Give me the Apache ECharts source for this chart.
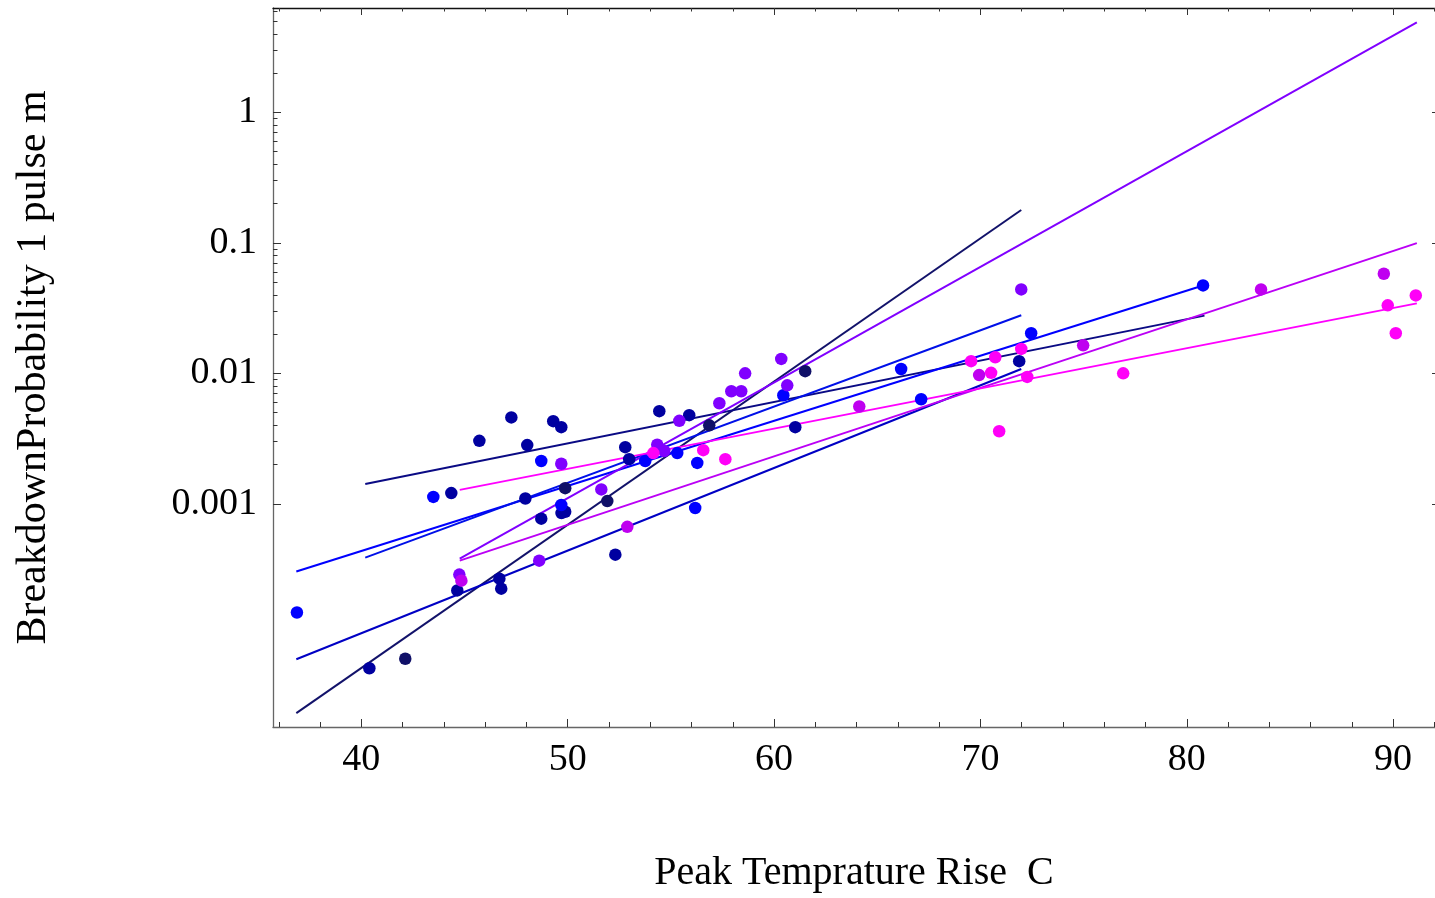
<!DOCTYPE html>
<html><head><meta charset="utf-8">
<script src="https://cdn.jsdelivr.net/npm/echarts@6/dist/echarts.min.js"></script>
<style>html,body{margin:0;padding:0;background:#fff}#c{width:1435px;height:898px}</style>
</head><body><div id="c"></div>
<script>
// ---- tick marks / labels ----
const xMajorTicks = [40, 50, 60, 70, 80, 90];
const xMinorTicks = [36, 38, 42, 44, 46, 48, 52, 54, 56, 58, 62, 64, 66, 68, 72, 74, 76, 78, 82, 84, 86, 88, 92];
const yMajorTicks = [0.001, 0.01, 0.1, 1];
const yTickLabels = ['0.001', '0.01', '0.1', '1'];
const yMinorTicks = [0.002, 0.003, 0.004, 0.005, 0.006, 0.007, 0.008, 0.009,
                     0.02, 0.03, 0.04, 0.05, 0.06, 0.07, 0.08, 0.09,
                     0.2, 0.3, 0.4, 0.5, 0.6, 0.7, 0.8, 0.9,
                     2, 3, 4, 5, 6];

// ---- measured points [peak temperature rise, breakdown probability] ----
const navyPts = [[42.13, 6.5e-5], [49.88, 1.32e-3], [51.92, 1.05e-3], [56.86, 4.0e-3], [61.51, 1.04e-2]];
const darkBluePts = [[40.39, 5.5e-5], [44.36, 1.21e-3], [45.72, 3.04e-3], [47.27, 4.6e-3], [48.04, 2.82e-3],
  [49.30, 4.3e-3], [49.69, 3.87e-3], [47.95, 1.1e-3], [48.72, 7.7e-4], [49.70, 8.5e-4], [49.88, 8.7e-4],
  [44.65, 2.17e-4], [46.69, 2.67e-4], [46.78, 2.24e-4], [52.31, 4.08e-4], [52.79, 2.72e-3], [52.98, 2.2e-3],
  [54.44, 5.13e-3], [55.89, 4.78e-3], [61.03, 3.87e-3], [71.88, 1.24e-2]];
const bluePts = [[36.88, 1.47e-4], [43.49, 1.13e-3], [48.72, 2.13e-3], [49.69, 9.8e-4], [53.76, 2.13e-3],
  [55.31, 2.45e-3], [56.28, 2.06e-3], [56.18, 9.3e-4], [60.45, 6.8e-3], [66.16, 1.08e-2], [67.13, 6.33e-3],
  [72.46, 2.03e-2], [80.79, 4.72e-2]];
const violetPts = [[49.69, 2.03e-3], [48.62, 3.67e-4], [44.75, 2.87e-4], [51.63, 1.29e-3], [54.34, 2.84e-3],
  [54.68, 2.54e-3], [55.41, 4.33e-3], [57.35, 5.9e-3], [57.93, 7.3e-3], [58.41, 7.3e-3], [58.60, 1.0e-2],
  [60.35, 1.29e-2], [60.64, 8.1e-3], [71.98, 4.4e-2]];
const purplePts = [[44.85, 2.58e-4], [52.89, 6.67e-4], [64.13, 5.57e-3], [69.94, 9.7e-3], [74.98, 1.64e-2],
  [83.60, 4.4e-2], [89.55, 5.8e-2]];
const magentaPts = [[54.15, 2.45e-3], [56.57, 2.58e-3], [57.64, 2.2e-3], [69.55, 1.24e-2], [70.72, 1.33e-2],
  [70.52, 1.01e-2], [71.98, 1.54e-2], [72.27, 9.4e-3], [70.91, 3.6e-3], [76.92, 1.0e-2], [89.74, 3.32e-2],
  [91.10, 3.96e-2], [90.13, 2.03e-2]];

// ---- fitted lines (end points) ----
const fitNavySteep = [[36.85, 2.49e-5], [71.98, 0.1786]];
const fitNavyFlat  = [[40.19, 1.42e-3], [80.86, 0.0277]];
const fitBlue      = [[36.85, 3.03e-4], [80.79, 0.0472]];
const fitBlueMid   = [[40.19, 3.87e-4], [71.98, 0.0279]];
const fitBlueDark  = [[36.85, 6.44e-5], [71.98, 0.0108]];
const fitViolet    = [[44.77, 3.8e-4], [91.15, 4.89]];
const fitPurple    = [[44.77, 3.67e-4], [91.15, 0.0995]];
const fitMagenta   = [[44.77, 1.28e-3], [91.15, 0.0344]];

const lg = v => Math.log10(v);
const toLog = arr => arr.map(p => [p[0], lg(p[1])]);

const FONT = 'Liberation Serif';
const xMin = 35.72, xMax = 92.03, yMin = -4.71, yMax = 0.80;

function xAx(pos, ticks, len, showLine, showLabel, lineColor) {
  return {
    type: 'value', position: pos, min: xMin, max: xMax,
    axisLine: { show: showLine, onZero: false, lineStyle: { color: lineColor, width: 1.3 } },
    axisTick: { show: true, inside: true, length: len, customValues: ticks, lineStyle: { color: '#333', width: 1 } },
    axisLabel: showLabel ? { show: true, customValues: ticks, margin: 14, fontFamily: FONT, fontSize: 38, color: '#000' } : { show: false },
    splitLine: { show: false }
  };
}
function yAx(pos, ticks, len, showLine, showLabel) {
  return {
    type: 'value', position: pos, min: yMin, max: yMax,
    axisLine: { show: showLine, onZero: false, lineStyle: { color: '#666', width: 1.3 } },
    axisTick: { show: true, inside: true, length: len, customValues: ticks.map(lg), lineStyle: { color: '#333', width: 1 } },
    axisLabel: showLabel ? {
      show: true, customValues: ticks.map(lg), margin: 16, fontFamily: FONT, fontSize: 38, color: '#000',
      formatter: v => { const i = yMajorTicks.findIndex(t => Math.abs(lg(t) - v) < 1e-6); return i >= 0 ? yTickLabels[i] : ''; }
    } : { show: false },
    splitLine: { show: false }
  };
}

const xAxes = [
  Object.assign(xAx('bottom', xMajorTicks, 8, true, true, '#666'), {
    name: 'Peak Temprature Rise  C', nameLocation: 'middle', nameGap: 126,
    nameTextStyle: { fontFamily: FONT, fontSize: 40, color: '#000' }
  }),
  xAx('bottom', xMinorTicks, 5, false, false, '#666'),
  xAx('top', xMajorTicks, 7, true, false, '#111'),
  xAx('top', xMinorTicks, 3.5, false, false, '#111')
];
const yAxes = [
  Object.assign(yAx('left', yMajorTicks, 8, true, true), {
    name: 'BreakdownProbability 1 pulse m', nameLocation: 'middle', nameGap: 218, nameRotate: 90,
    nameTextStyle: { fontFamily: FONT, fontSize: 42, color: '#000' }
  }),
  yAx('left', yMinorTicks, 4.5, false, false),
  yAx('right', yMajorTicks, 3, false, false)
];

function scat(data, color) {
  return { type: 'scatter', xAxisIndex: 0, yAxisIndex: 0, data: toLog(data), symbol: 'circle', symbolSize: 12.5,
    itemStyle: { color: color, opacity: 1 }, z: 3, silent: true };
}
function fit(data, color) {
  return { type: 'line', xAxisIndex: 0, yAxisIndex: 0, data: toLog(data), showSymbol: false, symbol: 'none',
    lineStyle: { color: color, width: 2 }, z: 2, silent: true };
}

const option = {
  animation: false,
  backgroundColor: '#fff',
  grid: { left: 273, right: 0, top: 8, bottom: 168, containLabel: false },
  xAxis: xAxes,
  yAxis: yAxes,
  series: [
    fit(fitNavySteep, '#12126a'),
    fit(fitNavyFlat, '#0a0a84'),
    fit(fitBlue, '#0000ff'),
    fit(fitBlueMid, '#0010e8'),
    fit(fitBlueDark, '#0000c4'),
    fit(fitViolet, '#8000ff'),
    fit(fitPurple, '#bb00f5'),
    fit(fitMagenta, '#ff00ff'),
    scat(navyPts, '#101068'),
    scat(darkBluePts, '#0000a0'),
    scat(bluePts, '#0000ff'),
    scat(violetPts, '#8000ff'),
    scat(purplePts, '#bf00f0'),
    scat(magentaPts, '#ff00f8')
  ]
};
echarts.init(document.getElementById('c'), null, { renderer: 'canvas' }).setOption(option);
</script>
</body></html>
